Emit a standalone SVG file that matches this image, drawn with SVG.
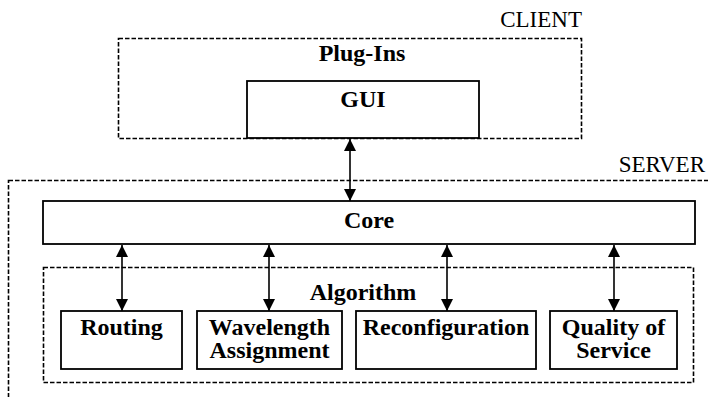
<svg xmlns="http://www.w3.org/2000/svg" width="708" height="397" viewBox="0 0 708 397">
<style>
.dash{fill:none;stroke:#000;stroke-width:1.6;stroke-dasharray:4.5 2}
.box{fill:#fff;stroke:#000;stroke-width:1.8}
.b{font-family:'Liberation Serif','Times New Roman',serif;font-weight:bold;font-size:24px;text-anchor:middle;fill:#000}
.r{font-family:'Liberation Serif','Times New Roman',serif;font-size:23px;text-anchor:end;fill:#000}
.c{stroke:#000;stroke-width:1.6;fill:none;marker-start:url(#ah);marker-end:url(#ah)}
</style>
<defs>
<marker id="ah" viewBox="0 0 12 12" refX="12" refY="6" markerWidth="12" markerHeight="12" markerUnits="userSpaceOnUse" orient="auto-start-reverse">
<path d="M0,0 L12,6 L0,12 Z" fill="#000"/>
</marker>
</defs>
<g id="server">
<rect class="dash" x="8.5" y="180.5" width="720" height="240"/>
<text class="r" x="705" y="172">SERVER</text>
</g>
<g id="client">
<rect class="dash" x="118.5" y="38.5" width="463" height="100"/>
<text class="r" x="582" y="27">CLIENT</text>
<text class="b" x="362" y="61">Plug-Ins</text>
</g>
<g id="gui">
<rect class="box" x="247" y="81" width="232" height="57"/>
<text class="b" x="363" y="107">GUI</text>
</g>
<g id="core">
<rect class="box" x="43" y="201" width="652" height="43"/>
<text class="b" x="369" y="228">Core</text>
</g>
<g id="algorithm">
<rect class="dash" x="43.5" y="267.5" width="650" height="115"/>
<text class="b" x="363" y="300">Algorithm</text>
</g>
<g id="routing">
<rect class="box" x="61" y="311" width="121" height="58"/>
<text class="b" x="121.5" y="335">Routing</text>
</g>
<g id="wavelength">
<rect class="box" x="197" y="311" width="145" height="58"/>
<text class="b" x="269.5" y="335">Wavelength</text>
<text class="b" x="269.5" y="358">Assignment</text>
</g>
<g id="reconfiguration">
<rect class="box" x="356" y="311" width="180" height="58"/>
<text class="b" x="446" y="335">Reconfiguration</text>
</g>
<g id="qos">
<rect class="box" x="550" y="311" width="127" height="58"/>
<text class="b" x="613.5" y="335">Quality of</text>
<text class="b" x="613.5" y="358">Service</text>
</g>
<g id="connectors">
<line class="c" x1="350" y1="139" x2="350" y2="201"/>
<line class="c" x1="122" y1="245" x2="122" y2="311"/>
<line class="c" x1="269" y1="245" x2="269" y2="311"/>
<line class="c" x1="447" y1="245" x2="447" y2="311"/>
<line class="c" x1="614" y1="245" x2="614" y2="311"/>
</g>
</svg>
